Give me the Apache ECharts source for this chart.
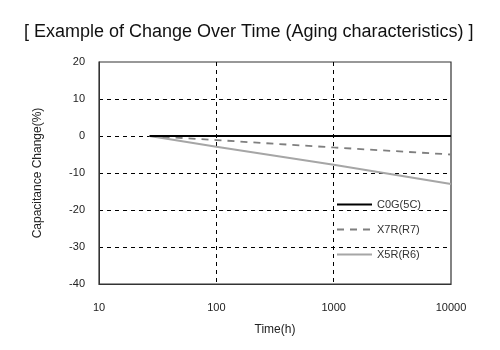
<!DOCTYPE html>
<html><head><meta charset="utf-8">
<script src="https://cdn.jsdelivr.net/npm/echarts@6/dist/echarts.min.js"></script>
<style>html,body{margin:0;padding:0;background:#fff}#c{width:500px;height:350px}</style>
</head><body><div id="c"></div>
<script>
const seriesNames = ['C0G(5C)', 'X7R(R7)', 'X5R(R6)'];
const hours = [27, 100, 1000, 10000];
const c0g = [0, 0, 0, 0];
const x7r = [0, -1.1, -3.1, -5.0];
const x5r = [0, -2.9, -7.8, -13.0];
const xTicks = [10, 100, 1000, 10000];
const yTicks = [-40, -30, -20, -10, 0, 10, 20];

const pair = v => hours.map((h, i) => [h, v[i]]);
const font = '"Liberation Sans", Arial, sans-serif';
const narrow = '"Liberation Sans Narrow", "Liberation Sans", Arial, sans-serif';
const chart = echarts.init(document.getElementById('c'), null, {renderer: 'canvas'});
chart.setOption({
  animation: false,
  backgroundColor: '#fff',
  title: {
    text: '[ Example of Change Over Time (Aging characteristics) ]',
    left: 19, top: 18,
    textStyle: {fontFamily: font, fontSize: 18, fontWeight: 'normal', color: '#111'}
  },
  legend: {
    orient: 'vertical', left: 331, top: 194, itemWidth: 35, itemHeight: 10, itemGap: 14,
    data: seriesNames,
    itemStyle: {opacity: 0},
    textStyle: {fontFamily: narrow, fontSize: 11, color: '#333'}
  },
  grid: {left: 99, right: 49, top: 62, bottom: 66, show: true, borderColor: '#333', borderWidth: 1.2},
  xAxis: {
    type: 'log', logBase: 10, min: xTicks[0], max: xTicks[xTicks.length - 1],
    name: 'Time(h)', nameLocation: 'middle', nameGap: 40,
    nameTextStyle: {fontFamily: font, fontSize: 12, color: '#222'},
    axisLine: {show: true, onZero: false, lineStyle: {color: '#333'}},
    axisTick: {show: false},
    axisLabel: {fontFamily: font, fontSize: 11, color: '#222', margin: 18, formatter: v => String(v)},
    splitLine: {show: true, showMinLine: false, showMaxLine: false, lineStyle: {color: '#000', type: [4, 4], width: 1}},
    minorTick: {show: false}
  },
  yAxis: {
    type: 'value', min: yTicks[0], max: yTicks[yTicks.length - 1], interval: 10,
    name: 'Capacitance Change(%)', nameLocation: 'middle', nameGap: 55,
    nameTextStyle: {fontFamily: font, fontSize: 12, color: '#222'},
    axisLine: {show: true, lineStyle: {color: '#333'}},
    axisTick: {show: false},
    axisLabel: {fontFamily: font, fontSize: 11, color: '#222', margin: 14},
    splitLine: {show: true, showMinLine: false, showMaxLine: false, lineStyle: {color: '#000', type: [4, 4], width: 1}}
  },
  series: [
    {name: seriesNames[0], type: 'line', symbol: 'none', data: pair(c0g), z: 5,
     lineStyle: {color: '#000', width: 2.2}, itemStyle: {color: '#000'}},
    {name: seriesNames[1], type: 'line', symbol: 'none', data: pair(x7r), z: 4,
     lineStyle: {color: '#7f7f7f', width: 1.8, type: [7, 6]}, itemStyle: {color: '#7f7f7f'}},
    {name: seriesNames[2], type: 'line', symbol: 'none', data: pair(x5r), z: 3,
     lineStyle: {color: '#a6a6a6', width: 2}, itemStyle: {color: '#a6a6a6'}}
  ]
});
</script></body></html>
